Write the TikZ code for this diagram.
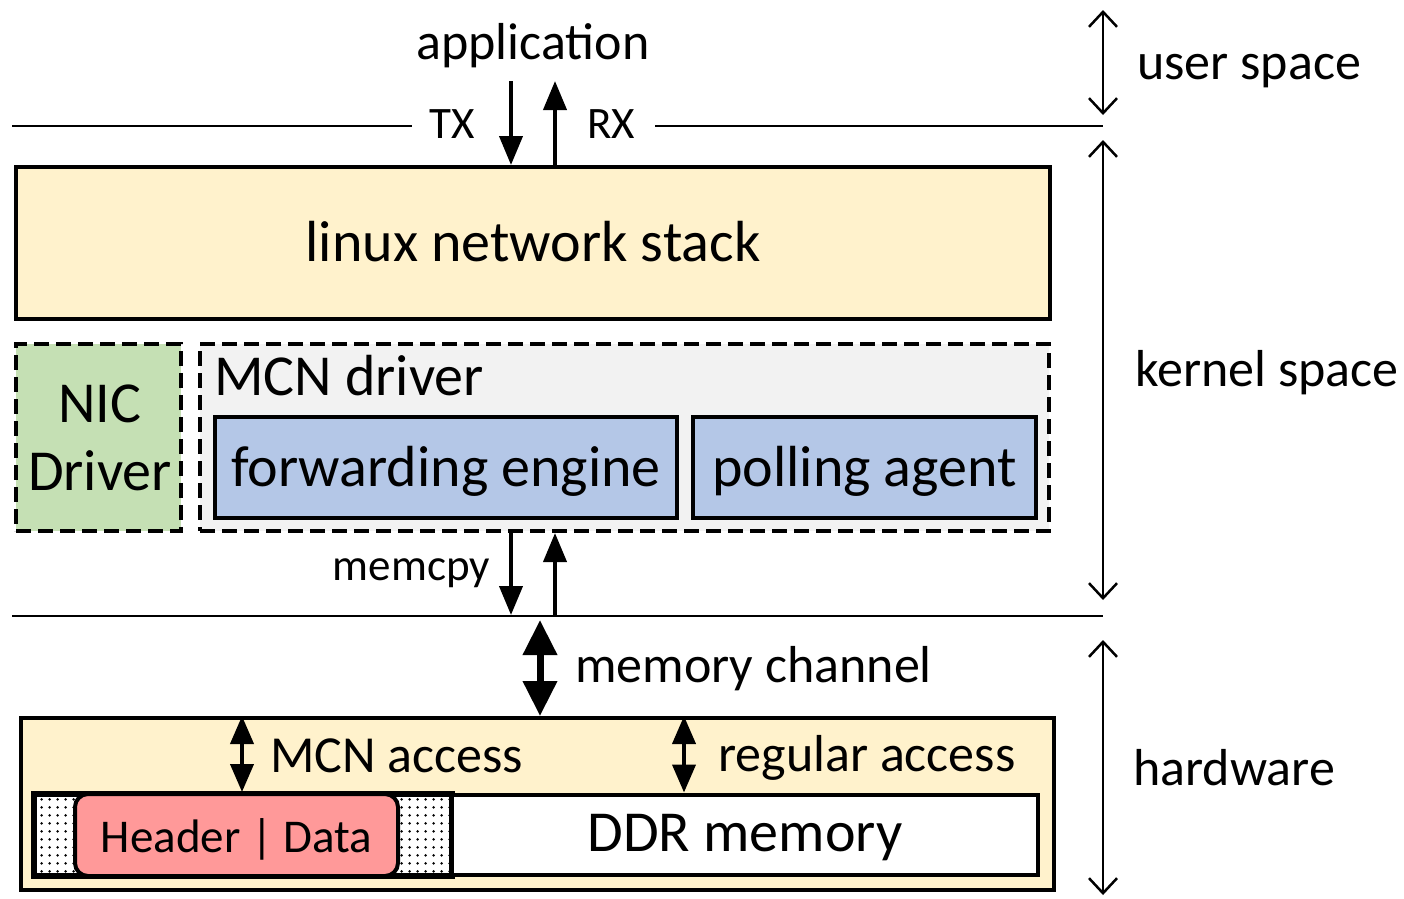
\documentclass[tikz,border=0pt]{standalone}
\usepackage{fontspec}
\setmainfont{Carlito}
\usetikzlibrary{
    arrows.meta,
    patterns.meta
}

\definecolor{stackyellow}{HTML}{FFF2CC}
\definecolor{nicgreen}{HTML}{C5E0B4}
\definecolor{drvgray}{HTML}{F2F2F2}
\definecolor{engblue}{HTML}{B4C7E7}
\definecolor{pktred}{HTML}{FF9999}

\tikzdeclarepattern{
    name=ddrdots,
    type=uncolored,
    bounding box={(0pt,0pt) and (7.6pt,7.6pt)},
    tile size={(7.6pt,7.6pt)},
    code={\fill (3.8pt,3.8pt) circle (1.5pt);}
}

\begin{document}
\begin{tikzpicture}[x=1pt, y=-1pt,
        box/.style={draw, line width=4pt, inner sep=0pt},
        dbox/.style={draw, line width=4pt, dash pattern=on 15pt off 7pt, inner sep=0pt},
        txt/.style={inner sep=0pt},
        big/.style={font=\fontsize{58}{70}\selectfont},
        mid/.style={font=\fontsize{52}{62}\selectfont},
        small/.style={font=\fontsize{45}{54}\selectfont},
        flow/.style={line width=4pt, -{Triangle[length=29pt,width=23pt]}},
        access/.style={line width=4pt, {Triangle[length=28pt,width=23pt]}-{Triangle[length=28pt,width=23pt]}},
        channel/.style={line width=7pt, {Triangle[length=35pt,width=33pt]}-{Triangle[length=35pt,width=33pt]}},
        span/.style={line width=2.5pt, {Straight Barb[length=15pt,width=28pt]}-{Straight Barb[length=15pt,width=28pt]}},
        layer/.style={line width=2pt}]
        \useasboundingbox (0,0) rectangle (1404,898);

        % kernel side
        \node[box, fill=stackyellow, minimum width=1034pt, minimum height=152pt] (stack) at (533, 243) {};
        \node[txt, big, anchor=base] (stacktext) at (533, 261) {linux network stack};
        \node[dbox, fill=nicgreen, minimum width=165pt, minimum height=187pt] (nic) at (98.5, 437.5) {};
        \node[txt, big, anchor=base] at (100, 422) {NIC};
        \node[txt, big, anchor=base] at (100, 490) {Driver};
        \node[dbox, fill=drvgray, minimum width=849pt, minimum height=187pt] (mcn) at (624.5, 437.5) {};
        \node[txt, big, anchor=base west] (mcntext) at (214, 395) {MCN driver};
        \node[box, fill=engblue, minimum width=462pt, minimum height=101pt] (fwd) at (446, 467.5) {};
        \node[txt, big, anchor=base] at (446, 486) {forwarding engine};
        \node[box, fill=engblue, minimum width=343pt, minimum height=101pt] (poll) at (864.5, 467.5) {};
        \node[txt, big, anchor=base] at (864.5, 486) {polling agent};

        % hardware side
        \node[box, fill=stackyellow, minimum width=1033pt, minimum height=172pt] (hw) at (537.5, 804) {};
        \node[box, fill=white, minimum width=416pt, minimum height=80pt] (slots) at (242.5, 834.5) {};
        \fill[pattern=ddrdots, pattern color=black] (slots.south west) rectangle (slots.north east);
        \draw[line width=4pt] (slots.south west) rectangle (slots.north east);
        \node[box, fill=white, minimum width=586pt, minimum height=80pt] (ddr) at (745, 834.5) {};
        \node[txt, big, anchor=base] at (745, 851) {DDR memory};
        \node[box, fill=pktred, rounded corners=13pt, minimum width=323pt, minimum height=82pt] (pkt) at (236.5, 835) {};
        \node[txt, font=\fontsize{47}{56}\selectfont, anchor=base] at (236.5, 852) {Header | Data};

        % layer lines
        \node[txt, small, anchor=base] (tx) at (452, 138) {TX};
        \node[txt, small, anchor=base] (rx) at (611, 138) {RX};
        \node[txt, mid, anchor=base] (app) at (533, 59) {application};
        \coordinate (userl) at (12, 126);
        \coordinate (userr) at (1103, 126);
        \draw[layer] (userl) -- (412, 126);
        \draw[layer] (655, 126) -- (userr);
        \coordinate (hwl) at (12, 616);
        \coordinate (hwr) at (1103, 616);
        \draw[layer] (hwl) -- (hwr);

        % data paths
        \coordinate (txtop) at (511, 81);
        \coordinate (rxtop) at (555, 81);
        \draw[flow] (txtop) -- (txtop |- stack.north);
        \draw[flow] (rxtop |- stack.north) -- (rxtop);
        \coordinate (cpdown) at (511, 615);
        \coordinate (cpup) at (555, 615);
        \draw[flow] (cpdown |- mcn.south) -- (cpdown);
        \draw[flow] (cpup) -- (cpup |- mcn.south);
        \node[txt, small, anchor=base east] (memcpy) at (490, 580) {memcpy};
        \coordinate (chtop) at (540, 620);
        \draw[channel] (chtop) -- (chtop |- hw.north);
        \node[txt, mid, anchor=base west] (chan) at (575, 682) {memory channel};
        \coordinate (mcnx) at (242, 0);
        \coordinate (regx) at (684, 0);
        \draw[access] (mcnx |- hw.north) -- (mcnx |- pkt.north);
        \draw[access] (regx |- hw.north) -- (regx |- ddr.north);
        \node[txt, mid, anchor=base west] (mcnacc) at (270, 772) {MCN access};
        \node[txt, mid, anchor=base west] (regacc) at (718, 771) {regular access};

        % spaces
        \coordinate (usertop) at (1103, 10);
        \coordinate (userbot) at (1103, 115);
        \coordinate (kerntop) at (1103, 140);
        \coordinate (kernbot) at (1103, 600);
        \coordinate (hwtop) at (1103, 640);
        \coordinate (hwbot) at (1103, 895);
        \draw[span] (usertop) -- (userbot);
        \draw[span] (kerntop) -- (kernbot);
        \draw[span] (hwtop) -- (hwbot);
        \node[txt, mid, anchor=base west] (user) at (1137, 79) {user space};
        \node[txt, mid, anchor=base west] (kernel) at (1135, 386) {kernel space};
        \node[txt, mid, anchor=base west] (hardware) at (1133, 785) {hardware};
\end{tikzpicture}
\end{document}
